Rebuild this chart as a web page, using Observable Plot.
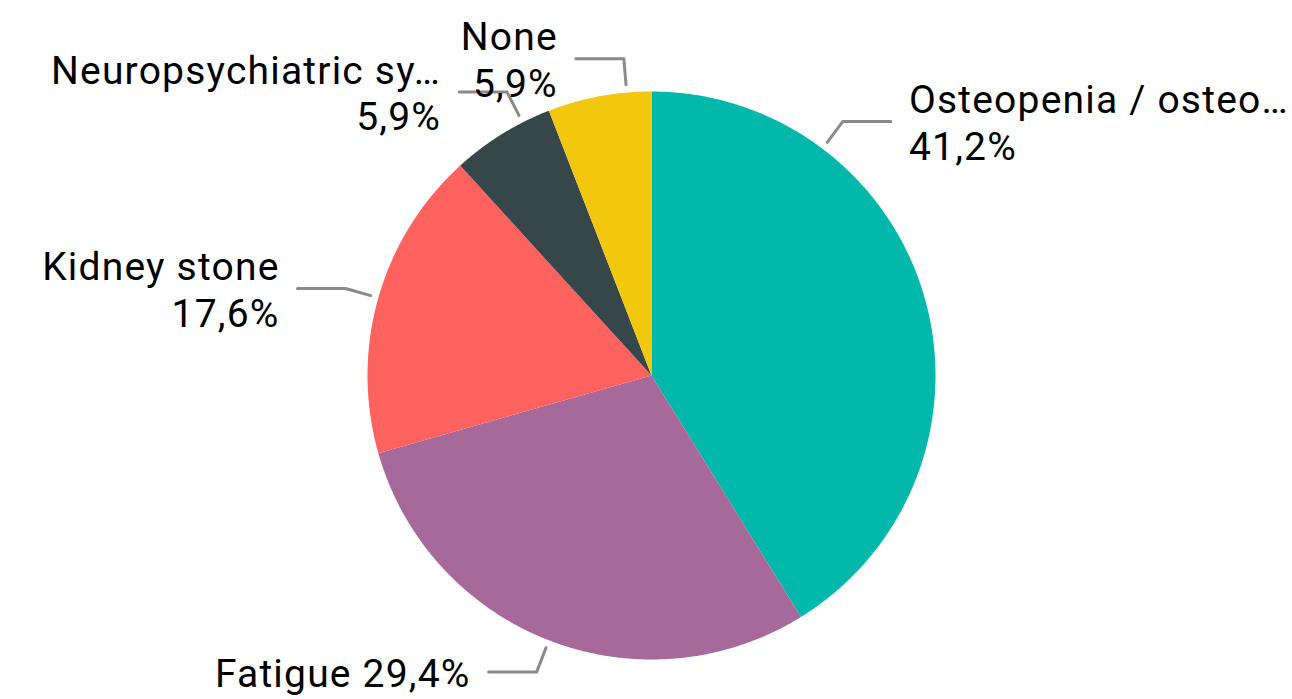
<!DOCTYPE html>
<html>
<head>
<meta charset="utf-8">
<script src="https://cdn.jsdelivr.net/npm/d3@7"></script>
<script src="https://cdn.jsdelivr.net/npm/@observablehq/plot@0.6"></script>
<style>
  html, body { margin: 0; padding: 0; background: #fff; overflow: hidden; }
  #chart svg { display: block; }
</style>
</head>
<body>
<div id="chart"></div>
<script>
// ---- data ----
const categories = ["Osteopenia / osteo…", "Fatigue", "Kidney stone", "Neuropsychiatric sy…", "None"];
const counts = [7, 5, 3, 1, 1];
const percentLabels = ["41,2%", "29,4%", "17,6%", "5,9%", "5,9%"];
const colors = ["#01B8AA", "#A66999", "#FD625E", "#374649", "#F2C80F"];

// ---- layout ----
const W = 1292, H = 699;
const cx = 651, cy = 375, R = 284;            // pixels
const labelAngleDeg = [37, null, null, 333, 355]; // null -> slice mid-angle
const singleLine = [false, true, false, false, false];
const startR = 1.028, elbowR = 1.12, hLen = 48 / R, gap = 18 / R;

const pie = d3.pie().sort(null).value(d => d)(counts);

// slice polygons in unit coordinates (y up), angle clockwise from top
const slicePts = [];
pie.forEach((p, i) => {
  const n = Math.max(8, Math.ceil((p.endAngle - p.startAngle) / 0.005));
  slicePts.push({cat: categories[i], x: 0, y: 0});
  for (let k = 0; k <= n; k++) {
    const a = p.startAngle + (p.endAngle - p.startAngle) * k / n;
    slicePts.push({cat: categories[i], x: Math.sin(a), y: Math.cos(a)});
  }
});

const leaders = [];
const labels = [];
pie.forEach((p, i) => {
  const a = labelAngleDeg[i] != null ? labelAngleDeg[i] * Math.PI / 180 : (p.startAngle + p.endAngle) / 2;
  const s = Math.sin(a), c = Math.cos(a);
  const right = s >= 0;
  const ex = s * elbowR, ey = c * elbowR;
  const hx = ex + (right ? hLen : -hLen);
  leaders.push({cat: categories[i], x: s * startR, y: c * startR});
  leaders.push({cat: categories[i], x: ex, y: ey});
  leaders.push({cat: categories[i], x: hx, y: ey});
  const txt = singleLine[i] ? `${categories[i].replace("…","")} ${percentLabels[i]}` : `${categories[i]}\n${percentLabels[i]}`;
  labels.push({x: hx + (right ? gap : -gap), y: ey, text: txt, anchor: right ? "start" : "end"});
});

const xDom = [-cx / R, (W - cx) / R];
const yDom = [-(H - cy) / R, cy / R];

const textOpts = {
  x: "x", y: "y", text: "text",
  lineAnchor: "middle", lineHeight: 1.2,
  fontSize: 39, fill: "#000",
  fontFamily: "Roboto, 'DejaVu Sans', sans-serif", fontWeight: 400
};

const chart = Plot.plot({
  width: W, height: H,
  margin: 0,
  x: {domain: xDom, range: [0, W], axis: null},
  y: {domain: yDom, range: [H, 0], axis: null},
  color: {domain: categories, range: colors},
  marks: [
    Plot.line(slicePts, {x: "x", y: "y", z: "cat", fill: "cat", stroke: "none", curve: "linear-closed"}),
    Plot.line(leaders, {x: "x", y: "y", z: "cat", stroke: "#8a8a8a", strokeWidth: 3}),
    Plot.text(labels.filter(d => d.anchor === "start"), {...textOpts, textAnchor: "start"}),
    Plot.text(labels.filter(d => d.anchor === "end"), {...textOpts, textAnchor: "end"})
  ]
});
chart.style.letterSpacing = "1.2px";
document.getElementById("chart").appendChild(chart);
</script>
</body>
</html>
